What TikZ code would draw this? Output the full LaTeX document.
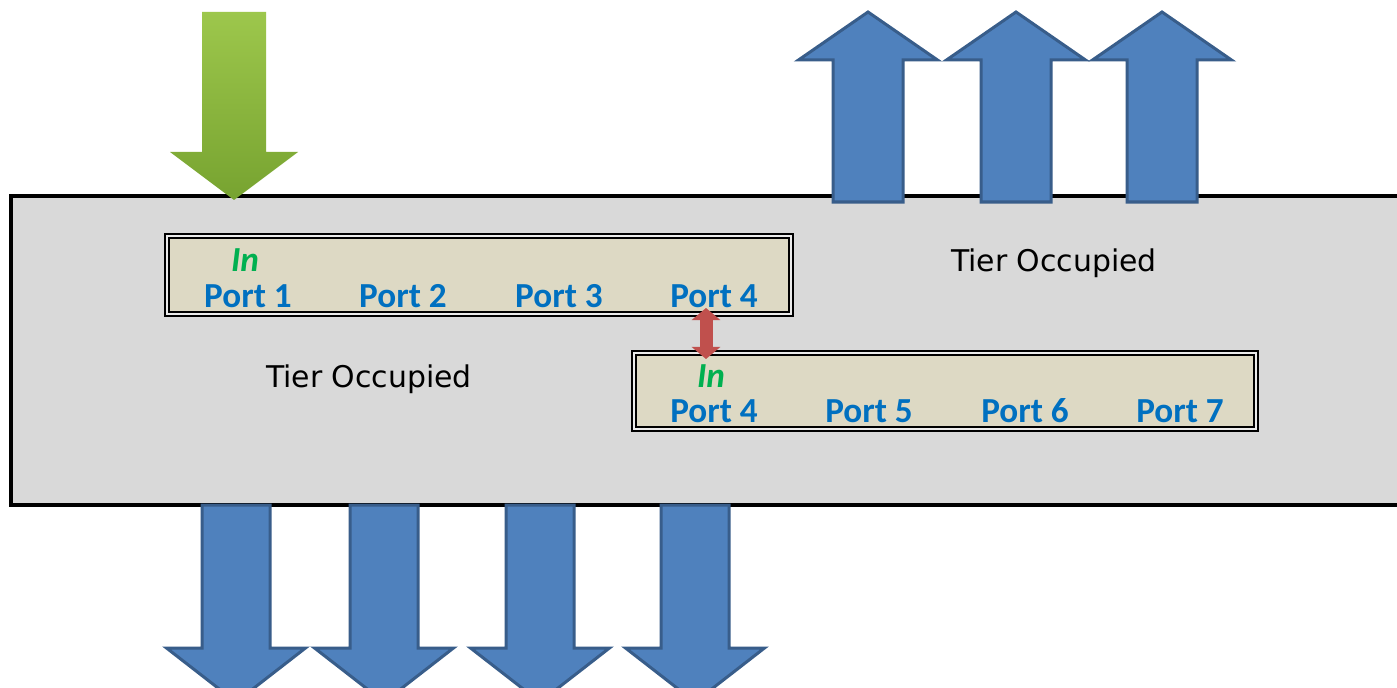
\documentclass[tikz,border=0pt]{standalone}
\usepackage{fontspec}
\setmainfont{Carlito}
\newfontfamily\tierfont{DejaVu Sans}
\usetikzlibrary{arrows.meta}
\definecolor{boxbg}{HTML}{D9D9D9}
\definecolor{tanbg}{HTML}{DDD9C4}
\definecolor{portblue}{HTML}{0070C0}
\definecolor{ingreen}{HTML}{00B050}
\definecolor{afill}{HTML}{4F81BD}
\definecolor{aline}{HTML}{385D8A}
\definecolor{rarrow}{HTML}{C0504D}
\definecolor{gtop}{HTML}{9DC74C}
\definecolor{gbot}{HTML}{77A330}
\newcommand\uparrowshape[1]{%
  \draw[blockarrow] ({#1-35},202) -- ({#1-35},60) -- ({#1-69.5},60) -- (#1,12) -- ({#1+69.5},60) -- ({#1+35},60) -- ({#1+35},202) -- cycle;}
\newcommand\downarrowshape[1]{%
  \draw[blockarrow] ({#1-34},505) -- ({#1-34},648) -- ({#1-69.5},648) -- (#1,702) -- ({#1+69.5},648) -- ({#1+34},648) -- ({#1+34},505) -- cycle;}
\begin{document}
\begin{tikzpicture}[x=0.01cm,y=-0.01cm,
  port/.style={font=\fontsize{10}{12}\selectfont\bfseries, text=portblue, inner sep=0},
  inlabel/.style={font=\fontsize{10}{12}\selectfont\bfseries\itshape, text=ingreen, inner sep=0},
  tier/.style={font=\tierfont\fontsize{8.5}{10}\selectfont, inner sep=0},
  blockarrow/.style={fill=afill, draw=aline, line width=0.03cm, line join=miter},
  bigbox/.style={fill=boxbg, draw=black, line width=0.045cm},
  portouter/.style={draw=black, line width=0.012cm, fill=white!92!black},
  portinner/.style={draw=black, line width=0.015cm, fill=tanbg},
  linkarrow/.style={draw=rarrow, line width=0.13cm, {Triangle[width=0.28cm,length=0.12cm]}-{Triangle[width=0.28cm,length=0.12cm]}, shorten <=0pt, shorten >=0pt}]
\useasboundingbox (0,0) rectangle (1397,688);
\clip (0,0) rectangle (1397,688);
\fill[white] (0,0) rectangle (1397,688);
% main tier
\draw[bigbox] (11,196) rectangle (1430,505);
\node[tier] (tierL) at (369,379) {Tier Occupied};
\node[tier] (tierR) at (1054,263) {Tier Occupied};
% port box 1
\draw[portouter] (165,234) rectangle (793,316);
\draw[portinner] (169,238) rectangle (789,312);
\node[inlabel] (in1) at (245,260) {In};
\node[port] (p1) at (248,296) {Port 1};
\node[port] (p2) at (403,296) {Port 2};
\node[port] (p3) at (559,296) {Port 3};
\node[port] (p4a) at (714,296) {Port 4};
% port box 2
\draw[portouter] (632,351) rectangle (1258,431);
\draw[portinner] (636,355) rectangle (1254,427);
\node[inlabel] (in2) at (711,376) {In};
\node[port] (p4b) at (714,411) {Port 4};
\node[port] (p5) at (869,411) {Port 5};
\node[port] (p6) at (1025,411) {Port 6};
\node[port] (p7) at (1180,411) {Port 7};
% link between tiers
\coordinate (linkA) at (706,308);
\coordinate (linkB) at (706,359);
\draw[linkarrow] (linkA) -- (linkB);
% green input arrow
\shade[top color=gtop, bottom color=gbot] (202,12) -- (202,152) -- (170,152) -- (234,200) -- (298,152) -- (266,152) -- (266,12) -- cycle;
% blue output arrows
\uparrowshape{868}
\uparrowshape{1016}
\uparrowshape{1162}
\downarrowshape{236}
\downarrowshape{384}
\downarrowshape{540}
\downarrowshape{695}
\end{tikzpicture}
\end{document}
